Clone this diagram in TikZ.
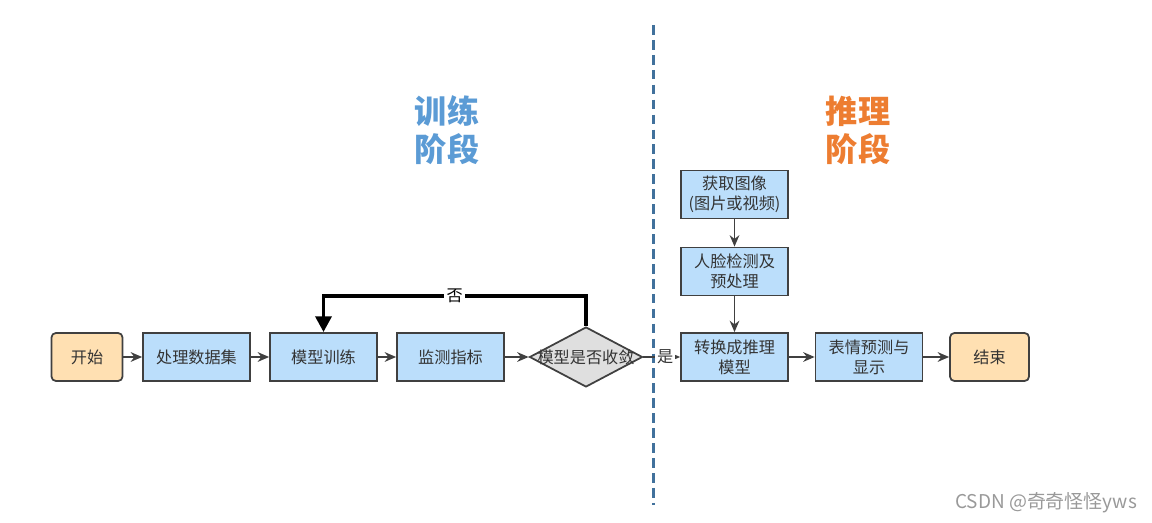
\documentclass[tikz,border=0pt]{standalone}
\usepackage{fontspec}
\setmainfont{Noto Sans CJK SC}
\usetikzlibrary{shapes.geometric,arrows.meta}

\definecolor{boxblue}{HTML}{BBDEFB}
\definecolor{boxorange}{HTML}{FFE0B2}
\definecolor{linegray}{HTML}{404040}
\definecolor{titleblue}{HTML}{5B9BD5}
\definecolor{titleorange}{HTML}{ED7D31}
\definecolor{dashblue}{HTML}{41719C}

\begin{document}
\begin{tikzpicture}[x=0.02cm,y=-0.02cm,every node/.style={font=\fontsize{9.2pt}{11.3pt}\selectfont,text=black!80}]

\tikzstyle{proc}=[draw=linegray,line width=1pt,fill=boxblue,minimum width=2.14cm,minimum height=0.96cm,align=center,inner sep=2pt];
\tikzstyle{term}=[proc,fill=boxorange,rounded corners=2.5pt,minimum width=1.42cm];
\tikzstyle{check}=[diamond,draw=linegray,line width=1pt,fill=gray!25,inner sep=0pt,minimum width=2.26cm,minimum height=1.2cm];
\tikzstyle{flow}=[-{Stealth[length=6.5pt,width=5.5pt]},line width=1pt,draw=linegray];
\tikzstyle{title}=[font=\fontsize{18.3pt}{21.5pt}\selectfont\bfseries,align=center];

\useasboundingbox (0,0) rectangle (1152,523);

% phase titles and divider
\node[title,text=titleblue] (trainlbl) at (447,130) {训练\\阶段};
\node[title,text=titleorange] (inferlbl) at (858,130) {推理\\阶段};
\coordinate (divtop) at (653,25);
\coordinate (divbot) at (653,505);
\draw[dashblue,line width=1.7pt,dash pattern=on 5.5pt off 3pt] (divtop) -- (divbot);

% training
\node[term] (start) at (87,357) {开始};
\node[proc] (prep) at (196.5,357) {处理数据集};
\node[proc] (train) at (323.5,357) {模型训练};
\node[proc] (monitor) at (450.5,357) {监测指标};
\node[check,label={center:模型是否收敛}] (conv) at (586,357) {};

% inference
\node[proc] (acquire) at (734.5,194.5) {获取图像\\(图片或视频)};
\node[proc] (detect) at (734.5,271.5) {人脸检测及\\预处理};
\node[proc] (convert) at (734.5,357) {转换成推理\\模型};
\node[proc] (predict) at (869,357) {表情预测与\\显示};
\node[term,minimum width=1.58cm] (finish) at (989.5,357) {结束};

\draw[flow] (start) -- (prep);
\draw[flow] (prep) -- (train);
\draw[flow] (train) -- (monitor);
\draw[flow] (monitor) -- (conv);
\draw[flow] (conv) -- node[fill=white,inner sep=1pt,xshift=2pt] {是} (convert);
\draw[flow] (acquire) -- (detect);
\draw[flow] (detect) -- (convert);
\draw[flow] (convert) -- (predict);
\draw[flow] (predict) -- (finish);

\draw[line width=2.2pt,-{Triangle[length=9pt,width=9pt]}] (conv.north) -- ++(0,-30) -| node[pos=0.25,fill=white,inner sep=1.5pt,text=black] {否} (train.north);

\node[text=black!40,font=\fontsize{10.8pt}{12pt}\selectfont] (mark) at (1046,503) {CSDN @奇奇怪怪yws};

\end{tikzpicture}
\end{document}
